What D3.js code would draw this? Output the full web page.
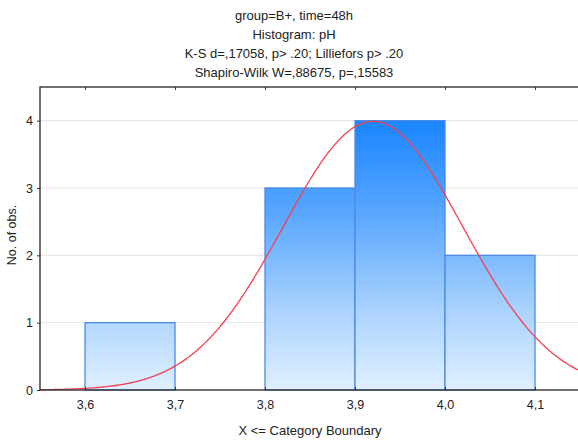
<!DOCTYPE html>
<html>
<head>
<meta charset="utf-8">
<script src="https://cdn.jsdelivr.net/npm/d3@7"></script>
<style>
  body { margin: 0; background: #fff; }
  text { font-family: "Liberation Sans", Arial, sans-serif; fill: #222; }
</style>
</head>
<body>
<svg width="578" height="442"></svg>
<script>
// Data
const binEdges = [3.6, 3.7, 3.8, 3.9, 4.0, 4.1];
const binCounts = [1, 0, 3, 4, 2];
const xTicks = [3.6, 3.7, 3.8, 3.9, 4.0, 4.1];
const yTicks = [0, 1, 2, 3, 4];
const titleLines = [
  "group=B+, time=48h",
  "Histogram: pH",
  "K-S d=,17058, p> .20; Lilliefors p> .20",
  "Shapiro-Wilk W=,88675, p=,15583"
];
// fitted normal
const fitMean = 3.92, fitSd = 0.1, nObs = 10, binWidth = 0.1;

const svg = d3.select("svg"),
  width = +svg.attr("width"),
  height = +svg.attr("height");

const margin = { left: 40, right: -2, top: 87, bottom: 52 };

const x = d3.scaleLinear()
  .domain([3.55, 4.15])
  .range([margin.left, width - margin.right]);
const y = d3.scaleLinear()
  .domain([0, 4.5])
  .range([height - margin.bottom, margin.top]);

const fmt = d => d3.format(".1f")(d).replace(".", ",");

// Title
svg.append("g")
  .selectAll("text")
  .data(titleLines)
  .enter()
  .append("text")
  .attr("x", 294)
  .attr("y", (d, i) => 20 + i * 19)
  .attr("text-anchor", "middle")
  .style("font-size", "13px")
  .text(d => d);

// Gradient for bars
const grad = svg.append("defs").append("linearGradient")
  .attr("id", "barGrad")
  .attr("gradientUnits", "userSpaceOnUse")
  .attr("x1", 0).attr("x2", 0)
  .attr("y1", y(4)).attr("y2", y(0));
grad.append("stop").attr("offset", "0%").attr("stop-color", "#1a85ff");
grad.append("stop").attr("offset", "35%").attr("stop-color", "#5aa7ff");
grad.append("stop").attr("offset", "70%").attr("stop-color", "#a9d2fe");
grad.append("stop").attr("offset", "100%").attr("stop-color", "#e0f0ff");

// Gridlines
svg.append("g")
  .selectAll("line")
  .data(yTicks.filter(d => d > 0))
  .enter()
  .append("line")
  .attr("x1", x.range()[0])
  .attr("x2", x.range()[1])
  .attr("y1", d => y(d))
  .attr("y2", d => y(d))
  .style("stroke", "#e4e4e4")
  .style("stroke-width", 1);

// Bars
const bins = binCounts.map((c, i) => ({ x0: binEdges[i], x1: binEdges[i + 1], count: c }));
svg.append("g")
  .selectAll("rect")
  .data(bins.filter(d => d.count > 0))
  .enter()
  .append("rect")
  .attr("x", d => x(d.x0))
  .attr("width", d => x(d.x1) - x(d.x0))
  .attr("y", d => y(d.count))
  .attr("height", d => y(0) - y(d.count))
  .attr("fill", "url(#barGrad)")
  .style("stroke", "#4b8be6")
  .style("stroke-width", 1.3);

// Normal curve
const curveXs = d3.range(0, 301).map(i => 3.55 + i * 0.6 / 300);
const normal = v => nObs * binWidth / (fitSd * Math.sqrt(2 * Math.PI)) *
  Math.exp(-0.5 * Math.pow((v - fitMean) / fitSd, 2));
svg.append("path")
  .datum(curveXs)
  .attr("d", d3.line().x(d => x(d)).y(d => y(normal(d))))
  .style("fill", "none")
  .style("stroke", "#f5404f")
  .style("stroke-width", 1.3);

// Frame
const [x0, x1] = x.range(), [y0, y1] = y.range();
svg.append("rect")
  .attr("x", x0).attr("y", y1)
  .attr("width", x1 - x0).attr("height", y0 - y1)
  .style("fill", "none")
  .style("stroke", "#333")
  .style("stroke-width", 1.4);

// Axes
svg.append("g")
  .attr("transform", `translate(0,${y0})`)
  .call(d3.axisBottom(x).tickValues(xTicks).tickFormat(fmt).tickSizeInner(-3).tickSizeOuter(0).tickPadding(10))
  .call(g => g.select(".domain").remove())
  .call(g => g.selectAll("line").style("stroke", "#333"))
  .call(g => g.selectAll("text").style("font-size", "12.5px").style("font-family", "Liberation Sans, Arial, sans-serif").attr("fill", "#222"));

svg.append("g")
  .attr("transform", `translate(0,${y1})`)
  .call(d3.axisTop(x).tickValues(xTicks).tickFormat("").tickSizeInner(-3).tickSizeOuter(0))
  .call(g => g.select(".domain").remove())
  .call(g => g.selectAll("line").style("stroke", "#333"));

svg.append("g")
  .attr("transform", `translate(${x0},0)`)
  .call(d3.axisLeft(y).tickValues(yTicks).tickFormat(d3.format("d")).tickSizeInner(3).tickSizeOuter(0).tickPadding(4))
  .call(g => g.select(".domain").remove())
  .call(g => g.selectAll("line").style("stroke", "#333"))
  .call(g => g.selectAll("text").style("font-size", "12.5px").style("font-family", "Liberation Sans, Arial, sans-serif").attr("fill", "#222"));

// Axis titles
svg.append("text")
  .attr("x", 310)
  .attr("y", 435)
  .attr("text-anchor", "middle")
  .style("font-size", "13px")
  .text("X <= Category Boundary");

svg.append("text")
  .attr("transform", "translate(16,235) rotate(-90)")
  .attr("text-anchor", "middle")
  .style("font-size", "12.5px")
  .text("No. of obs.");
</script>
</body>
</html>
